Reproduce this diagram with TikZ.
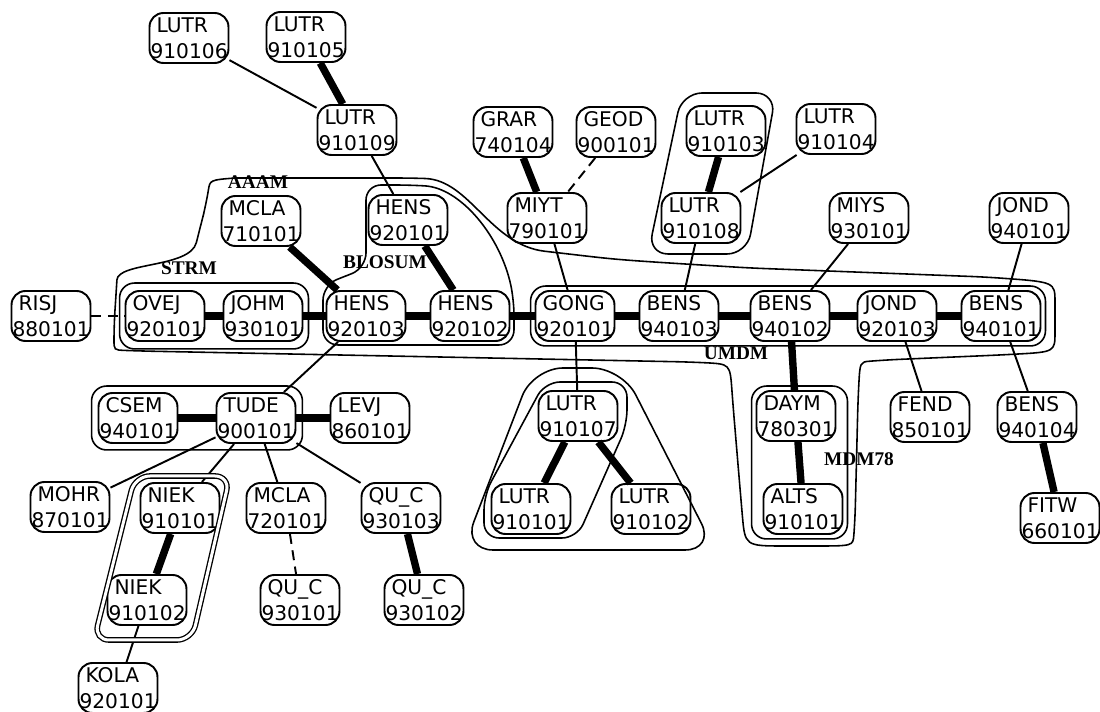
\documentclass[tikz,border=0pt]{standalone}
\usepackage{fontspec}
\setmainfont{Liberation Serif}
\setsansfont{DejaVu Sans}
\usetikzlibrary{fit}

\begin{document}
\begin{tikzpicture}[
    x=0.02cm,y=-0.02cm,
    entry/.style={draw,black,line width=1.1pt,rounded corners=0.28cm,text width=1.54cm,inner xsep=0.02cm,inner ysep=0pt,minimum height=1cm,align=left,font=\sffamily\fontsize{11.5}{14.8}\selectfont,execute at begin node=\hspace{0.12cm}},
    link/.style={line width=1.1pt},
    bond/.style={line width=4.2pt},
    loose/.style={line width=1.1pt,dash pattern=on 0.2cm off 0.13cm},
    grp/.style={line width=0.9pt,rounded corners=0.3cm},
    grpbox/.style={draw,line width=0.9pt,rounded corners=0.3cm,inner sep=0.1cm},
    grplabel/.style={font=\rmfamily\bfseries\fontsize{11}{12}\selectfont,inner sep=0pt}
    ]
    \useasboundingbox (0, 0) rectangle (1100, 712);
    \node[entry] (lutr106) at (189, 38) {LUTR\\910106};
    \node[entry] (lutr105) at (306, 37) {LUTR\\910105};
    \node[entry] (lutr109) at (357, 130) {LUTR\\910109};
    \node[entry] (grar) at (513, 132) {GRAR\\740104};
    \node[entry] (geod) at (616, 132) {GEOD\\900101};
    \node[entry] (lutr103) at (726, 131) {LUTR\\910103};
    \node[entry] (lutr104) at (836, 129) {LUTR\\910104};
    \node[entry] (mcla710) at (261, 221) {MCLA\\710101};
    \node[entry] (hens101) at (408, 220) {HENS\\920101};
    \node[entry] (miyt) at (547, 218) {MIYT\\790101};
    \node[entry] (lutr108) at (701, 218) {LUTR\\910108};
    \node[entry] (miys) at (869, 218) {MIYS\\930101};
    \node[entry] (jond940) at (1029, 218) {JOND\\940101};
    \node[entry] (risj) at (51, 316) {RISJ\\880101};
    \node[entry] (ovej) at (165, 316) {OVEJ\\920101};
    \node[entry] (johm) at (263, 316) {JOHM\\930101};
    \node[entry] (hens103) at (366, 316) {HENS\\920103};
    \node[entry] (hens102) at (470, 316) {HENS\\920102};
    \node[entry] (gong) at (575, 316) {GONG\\920101};
    \node[entry] (bens103) at (679, 316) {BENS\\940103};
    \node[entry] (bens102) at (790, 316) {BENS\\940102};
    \node[entry] (jond920) at (897, 316) {JOND\\920103};
    \node[entry] (bens101) at (1001, 316) {BENS\\940101};
    \node[entry] (csem) at (138, 418) {CSEM\\940101};
    \node[entry] (tude) at (256, 418) {TUDE\\900101};
    \node[entry] (levj) at (370, 418) {LEVJ\\860101};
    \node[entry] (lutr107) at (578, 416) {LUTR\\910107};
    \node[entry] (daym) at (796, 416) {DAYM\\780301};
    \node[entry] (fend) at (930, 417) {FEND\\850101};
    \node[entry] (bens104) at (1037, 417) {BENS\\940104};
    \node[entry] (mohr) at (70, 507) {MOHR\\870101};
    \node[entry] (niek101) at (180, 508) {NIEK\\910101};
    \node[entry] (mcla720) at (286, 508) {MCLA\\720101};
    \node[entry] (quc103) at (401, 508) {QU\_C\\930103};
    \node[entry] (lutr101) at (531, 509) {LUTR\\910101};
    \node[entry] (lutr102) at (651, 509) {LUTR\\910102};
    \node[entry] (alts) at (803, 509) {ALTS\\910101};
    \node[entry] (fitw) at (1060, 518) {FITW\\660101};
    \node[entry] (niek102) at (147, 600) {NIEK\\910102};
    \node[entry] (quc101) at (300, 600) {QU\_C\\930101};
    \node[entry] (quc102) at (424, 600) {QU\_C\\930102};
    \node[entry] (kola) at (118, 688) {KOLA\\920101};
    \draw[link] (lutr106) -- (lutr109);
    \draw[bond] (lutr105) -- (lutr109);
    \draw[link] (lutr109) -- (hens101);
    \draw[bond] (grar) -- (miyt);
    \draw[loose] (geod) -- (miyt);
    \draw[bond] (lutr103) -- (lutr108);
    \draw[link] (lutr104) -- (lutr108);
    \draw[bond] (mcla710) -- (hens103);
    \draw[bond] (hens101) -- (hens102);
    \draw[link] (miyt) -- (gong);
    \draw[link] (lutr108) -- (bens103);
    \draw[link] (miys) -- (bens102);
    \draw[link] (jond940) -- (bens101);
    \draw[loose] (risj) -- (ovej);
    \draw[bond] (ovej) -- (johm);
    \draw[bond] (johm) -- (hens103);
    \draw[bond] (hens103) -- (hens102);
    \draw[bond] (hens102) -- (gong);
    \draw[bond] (gong) -- (bens103);
    \draw[bond] (bens103) -- (bens102);
    \draw[bond] (bens102) -- (jond920);
    \draw[bond] (jond920) -- (bens101);
    \draw[link] (hens103) -- (tude);
    \draw[link] (gong) -- (lutr107);
    \draw[bond] (bens102) -- (daym);
    \draw[link] (jond920) -- (fend);
    \draw[link] (bens101) -- (bens104);
    \draw[bond] (csem) -- (tude);
    \draw[bond] (tude) -- (levj);
    \draw[link] (tude) -- (mohr);
    \draw[link] (tude) -- (niek101);
    \draw[link] (tude) -- (mcla720);
    \draw[link] (tude) -- (quc103);
    \draw[bond] (niek101) -- (niek102);
    \draw[link] (niek102) -- (kola);
    \draw[loose] (mcla720) -- (quc101);
    \draw[bond] (quc103) -- (quc102);
    \draw[bond] (lutr107) -- (lutr101);
    \draw[bond] (lutr107) -- (lutr102);
    \draw[bond] (daym) -- (alts);
    \draw[bond] (bens104) -- (fitw);
    \node[grpbox, inner xsep=0.1cm, inner ysep=0.14cm, fit=(ovej)(johm)] (strm) {};
    \node[grpbox, inner sep=0.12cm, fit=(csem)(tude)] (csemgrp) {};
    \node[grpbox, inner sep=0.08cm, fit=(gong)(bens101)] (umdm) {};
    \node[grpbox, inner sep=0.08cm, fit=(daym)(alts)] (mdm) {};
    \draw[grp, rounded corners=0.4cm] (682, 93) -- (776, 93) -- (747, 254) -- (648, 254) -- cycle;
    \draw[grp, double, double distance=0.06cm, line width=0.75pt] (135, 476) -- (230, 476) -- (192, 640) -- (94, 640) -- cycle;
    \draw[grp, rounded corners=0.6cm] (533, 368) -- (622, 368) -- (715, 550) -- (463, 550) -- cycle;
    \draw[grp] (545, 382) -- (627, 382) -- (627, 425) -- (577, 538) -- (484, 538) -- (484, 495) -- cycle;
    \draw[grp] (366, 230) -- (366, 268) -- (323, 285) -- (323, 345) -- (514, 345) -- (514, 300) .. controls (500, 235) and (460, 188) .. (410, 185) -- (366, 185) -- cycle;
    \draw[grp] (235, 178) -- (410, 178) .. controls (470, 180) and (490, 245) .. (560, 253) .. controls (620, 260) .. (750, 268) -- (985, 277) .. controls (1055, 282) .. (1055, 317) .. controls (1055, 352) .. (1000, 355) -- (885, 360) .. controls (860, 362) .. (858, 400) -- (855, 520) .. controls (853, 546) .. (800, 546) .. controls (745, 546) .. (741, 500) -- (733, 405) .. controls (730, 364) .. (690, 362) -- (140, 351) .. controls (114, 350) .. (114, 325) -- (116, 295) .. controls (118, 262) and (190, 268) .. (200, 228) -- (206, 205) .. controls (210, 180) .. (235, 178);
    \node[grplabel] (aaamlab) at (258, 182) {AAAM};
    \node[grplabel] (strmlab) at (189, 268) {STRM};
    \node[grplabel] (blosumlab) at (385, 262) {BLOSUM};
    \node[grplabel] (umdmlab) at (736, 353) {UMDM};
    \node[grplabel] (mdmlab) at (859, 459) {MDM78};
\end{tikzpicture}
\end{document}
